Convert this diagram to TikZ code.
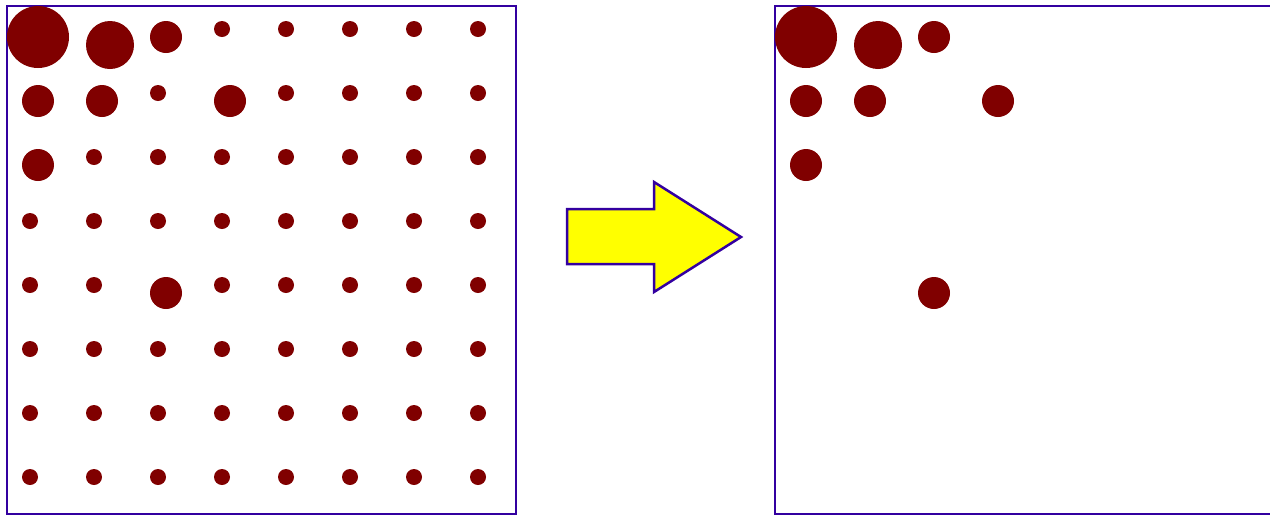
\documentclass[tikz,border=0pt]{standalone}
\usepackage{tikz}
\usetikzlibrary{calc}
\definecolor{framecol}{HTML}{3300A0}
\definecolor{dotcol}{HTML}{800000}
\definecolor{arrowcol}{HTML}{FFFF00}

\begin{document}
\begin{tikzpicture}[
    x=0.02cm, y=-0.02cm,
    frame/.style={draw=framecol, line width=0.05cm},
    dot/.style={fill=dotcol, draw=none},
    bigarrow/.style={draw=framecol, fill=arrowcol, line width=0.05cm, line join=miter}
]
\useasboundingbox (0,0) rectangle (1270,515);

% Left panel: full grid
\draw[frame] (7,6) rectangle (516,514);
\foreach \i in {0,...,7}{
  \foreach \j in {0,...,7}{
    \pgfmathtruncatemacro{\code}{10*\i+\j}
    \ifnum\code=0 \else\ifnum\code=10 \else\ifnum\code=20 \else
    \ifnum\code=1 \else\ifnum\code=11 \else\ifnum\code=31 \else
    \ifnum\code=2 \else\ifnum\code=24 \else
      \fill[dot] (30+64*\i, 29+64*\j) circle[radius=8];
    \fi\fi\fi\fi\fi\fi\fi\fi
  }
}
% Left panel: large dots
\foreach \px/\py/\r in {38/37/31, 110/45/24, 166/37/16, 38/101/16, 102/101/16, 230/101/16, 38/165/16, 166/293/16}{
  \fill[dot] (\px,\py) circle[radius=\r];
}

% Arrow
\draw[bigarrow] (567,209) -- (654,209) -- (654,182) -- (741,237) -- (654,292) -- (654,264) -- (567,264) -- cycle;

% Right panel: large dots only
\draw[frame] (775,6) rectangle (1290,514);
\foreach \px/\py/\r in {38/37/31, 110/45/24, 166/37/16, 38/101/16, 102/101/16, 230/101/16, 38/165/16, 166/293/16}{
  \fill[dot] (768+\px,\py) circle[radius=\r];
}

\end{tikzpicture}
\end{document}
